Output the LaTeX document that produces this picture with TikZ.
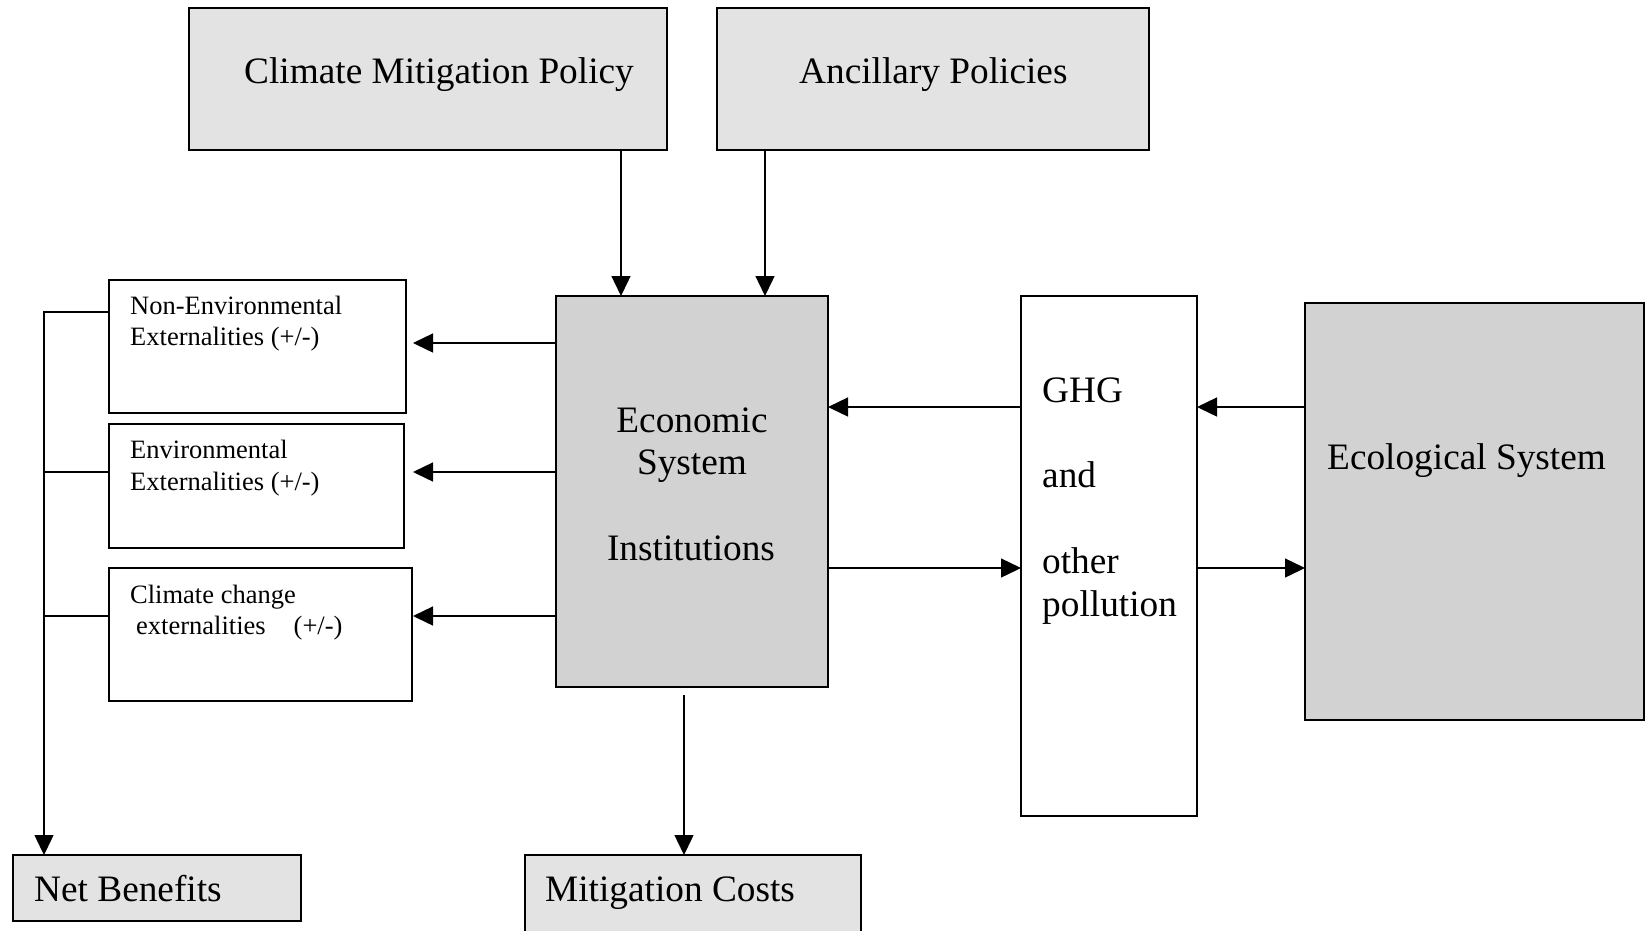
\documentclass[tikz,border=0pt]{standalone}
\usepackage{fontspec}
\setmainfont{Liberation Serif}
\usetikzlibrary{arrows.meta}
\definecolor{lightbox}{HTML}{E3E3E3}
\definecolor{darkbox}{HTML}{D2D2D2}
\begin{document}
\begin{tikzpicture}[x=1pt,y=-1pt,
  box/.style={draw=black,line width=1.8pt,inner sep=0pt,outer sep=0pt},
  conn/.style={line width=1.4pt},
  arr/.style={conn,-{Triangle[length=20pt,width=19pt]}},
  big/.style={inner sep=0pt,font=\fontsize{37.3}{43}\selectfont},
  small/.style={inner sep=0pt,font=\fontsize{26.5}{31.5}\selectfont}]
\useasboundingbox[fill=white] (0,0) rectangle (1645,930);

% boxes
\node[box,fill=lightbox,minimum width=478pt,minimum height=142pt] (cmp) at (428,79) {};
\node[box,fill=lightbox,minimum width=432pt,minimum height=142pt] (anc) at (933,79) {};
\node[box,fill=darkbox,minimum width=272pt,minimum height=391pt] (econ) at (692,491.5) {};
\node[box,fill=white,minimum width=297pt,minimum height=133pt] (nonenv) at (257.5,346.5) {};
\node[box,fill=white,minimum width=295pt,minimum height=124pt] (env) at (256.5,486) {};
\node[box,fill=white,minimum width=303pt,minimum height=133pt] (ccx) at (260.5,634.5) {};
\node[box,fill=lightbox,minimum width=288pt,minimum height=66pt] (net) at (157,888) {};
\node[box,fill=lightbox,minimum width=336pt,minimum height=90pt] (mit) at (693,900) {};
\node[box,fill=white,minimum width=176pt,minimum height=520pt] (ghg) at (1109,556) {};
\node[box,fill=darkbox,minimum width=339pt,minimum height=417pt] (eco) at (1474.5,511.5) {};

% texts
\node[big,anchor=base west] (tcmp) at (244,83) {Climate Mitigation Policy};
\node[big,anchor=base west] (tanc) at (799,83) {Ancillary Policies};
\node[big,anchor=base] (tecon1) at (692,432) {Economic};
\node[big,anchor=base] (tecon2) at (692,474) {System};
\node[big,anchor=base] (tecon3) at (691,560) {Institutions};
\node[big,anchor=base west] (tghg1) at (1042,402) {GHG};
\node[big,anchor=base west] (tghg2) at (1042,487) {and};
\node[big,anchor=base west] (tghg3) at (1042,573) {other};
\node[big,anchor=base west] (tghg4) at (1042,616) {pollution};
\node[big,anchor=base west] (teco) at (1327,469) {Ecological System};
\node[big,anchor=base west] (tnet) at (34,901) {Net Benefits};
\node[big,anchor=base west] (tmit) at (545,901) {Mitigation Costs};
\node[small,anchor=base west] (tne1) at (130,314) {Non-Environmental};
\node[small,anchor=base west] (tne2) at (130,345) {Externalities (+/-)};
\node[small,anchor=base west] (tenv1) at (130,458) {Environmental};
\node[small,anchor=base west] (tenv2) at (130,490) {Externalities (+/-)};
\node[small,anchor=base west] (tcc1) at (130,603) {Climate change};
\node[small,anchor=base west] (tcc2) at (136,634) {externalities\hspace{28pt}(+/-)};

% helper coordinates
\coordinate (xa) at (621,0);
\coordinate (xb) at (765,0);
\coordinate (xbus) at (44,0);
\coordinate (xtip) at (413,0);
\coordinate (cs) at (684,695);
\coordinate (yt1) at (0,312);
\coordinate (y1) at (0,343);
\coordinate (y2) at (0,472);
\coordinate (y3) at (0,616);
\coordinate (yg1) at (0,407);
\coordinate (yg2) at (0,568);

% connectors
\draw[arr] (cmp.south -| xa) -- (econ.north -| xa);
\draw[arr] (anc.south -| xb) -- (econ.north -| xb);
\draw[arr] (econ.west |- y1) -- (xtip |- y1);
\draw[arr] (econ.west |- y2) -- (xtip |- y2);
\draw[arr] (econ.west |- y3) -- (xtip |- y3);
\draw[arr] (cs) -- (mit.north -| cs);
\draw[arr] (nonenv.west |- yt1) -| (net.north -| xbus);
\draw[conn] (env.west |- y2) -- (xbus |- y2);
\draw[conn] (ccx.west |- y3) -- (xbus |- y3);
\draw[arr] (ghg.west |- yg1) -- (econ.east |- yg1);
\draw[arr] (econ.east |- yg2) -- (ghg.west |- yg2);
\draw[arr] (eco.west |- yg1) -- (ghg.east |- yg1);
\draw[arr] (ghg.east |- yg2) -- (eco.west |- yg2);
\end{tikzpicture}
\end{document}
